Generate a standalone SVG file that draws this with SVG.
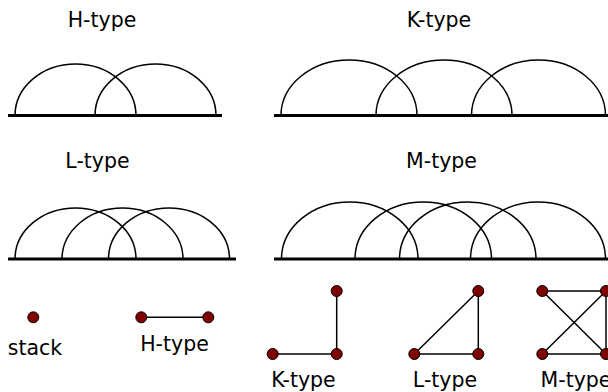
<svg xmlns="http://www.w3.org/2000/svg" width="608" height="392" viewBox="0 0 608 392">
<style>
text{font-family:"DejaVu Sans",sans-serif;font-size:20.5px;fill:#000;text-anchor:middle}
.base{stroke:#000;stroke-width:3;fill:none}
.arc{stroke:#000;stroke-width:1.5;fill:none}
.edge{stroke:#000;stroke-width:1.5;fill:none}
.node{fill:#800000;stroke:#000;stroke-width:1}
</style>
<rect width="608" height="392" fill="#fff"/>
<g id="h-arcs">
<text x="102" y="27">H-type</text>
<line class="base" x1="8" y1="115.5" x2="222" y2="115.5"/>
<path class="arc" d="M15 115.5A60.5 51.5 0 0 1 136 115.5M95 115.5A60.5 51.5 0 0 1 216 115.5"/>
</g>
<g id="k-arcs">
<text x="439" y="27">K-type</text>
<line class="base" x1="274" y1="115.5" x2="608" y2="115.5"/>
<path class="arc" d="M281 115.5A68 55.5 0 0 1 417 115.5M376 115.5A68 55.5 0 0 1 512 115.5M471.5 115.5A67 55.5 0 0 1 605.5 115.5"/>
</g>
<g id="l-arcs">
<text x="97.5" y="168">L-type</text>
<line class="base" x1="8" y1="259" x2="236" y2="259"/>
<path class="arc" d="M15 259A60.5 51 0 0 1 136 259M62 259A60.5 51 0 0 1 183 259M108.5 259A60.5 51 0 0 1 229.5 259"/>
</g>
<g id="m-arcs">
<text x="441.5" y="168">M-type</text>
<line class="base" x1="274" y1="259" x2="608" y2="259"/>
<path class="arc" d="M281.5 259A68.25 57 0 0 1 418 259M355 259A68.25 57 0 0 1 491.5 259M399.5 259A68.25 57 0 0 1 536 259M470.5 259A67.5 57 0 0 1 605.5 259"/>
</g>
<g id="connectors">
<line class="edge" x1="141.3" y1="317.3" x2="208.3" y2="317.3"/>
<line class="edge" x1="272.7" y1="354" x2="336.7" y2="354"/>
<line class="edge" x1="336.7" y1="291" x2="336.7" y2="354"/>
<line class="edge" x1="414.3" y1="354" x2="478.3" y2="354"/>
<line class="edge" x1="478.3" y1="291" x2="478.3" y2="354"/>
<line class="edge" x1="414.3" y1="354" x2="478.3" y2="291"/>
<line class="edge" x1="542.3" y1="291" x2="606" y2="291"/>
<line class="edge" x1="542.3" y1="354" x2="606" y2="354"/>
<line class="edge" x1="606" y1="291" x2="606" y2="354"/>
<line class="edge" x1="542.3" y1="291" x2="606" y2="354"/>
<line class="edge" x1="542.3" y1="354" x2="606" y2="291"/>
</g>
<g id="stack">
<circle class="node" cx="33.3" cy="317.3" r="5.5"/>
<text x="35" y="355">stack</text>
</g>
<g id="h-graph">
<circle class="node" cx="141.3" cy="317.3" r="5.5"/>
<circle class="node" cx="208.3" cy="317.3" r="5.5"/>
<text x="174.5" y="351">H-type</text>
</g>
<g id="k-graph">
<circle class="node" cx="336.7" cy="291" r="5.5"/>
<circle class="node" cx="336.7" cy="354" r="5.5"/>
<circle class="node" cx="272.7" cy="354" r="5.5"/>
<text x="303.5" y="386.5">K-type</text>
</g>
<g id="l-graph">
<circle class="node" cx="478.3" cy="291" r="5.5"/>
<circle class="node" cx="478.3" cy="354" r="5.5"/>
<circle class="node" cx="414.3" cy="354" r="5.5"/>
<text x="445" y="386.5">L-type</text>
</g>
<g id="m-graph">
<circle class="node" cx="542.3" cy="291" r="5.5"/>
<circle class="node" cx="606" cy="291" r="5.5"/>
<circle class="node" cx="542.3" cy="354" r="5.5"/>
<circle class="node" cx="606" cy="354" r="5.5"/>
<text x="576" y="386.5">M-type</text>
</g>
</svg>
